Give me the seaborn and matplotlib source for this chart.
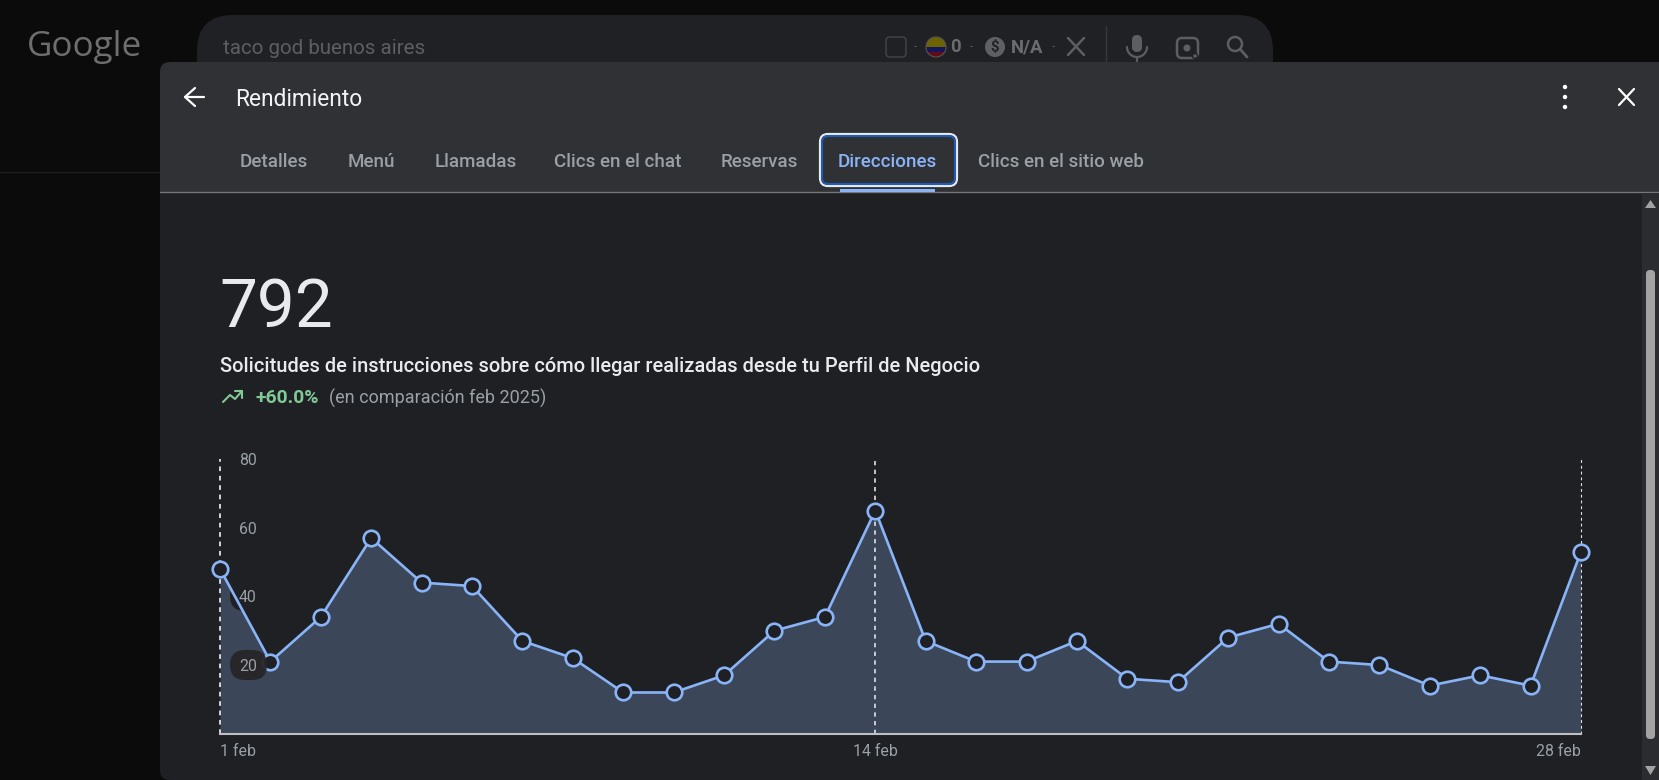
import matplotlib
matplotlib.use('Agg')
import matplotlib.pyplot as plt
from matplotlib.patches import FancyBboxPatch, Rectangle, Circle, Polygon
import numpy as np
import pandas as pd
import seaborn as sns

sns.set_theme(style='dark')
plt.rcParams['font.family'] = ['Roboto', 'DejaVu Sans']

# Data (sums to 792)
days = list(range(1, 29))
directions = [48, 21, 34, 57, 44, 43, 27, 22, 12, 12, 17, 30, 34, 65,
              27, 21, 21, 27, 16, 15, 28, 32, 21, 20, 14, 17, 14, 53]
marked_days = [1, 14, 28]
x_labels = ['1 feb', '14 feb', '28 feb']
y_ticks = [20, 40, 60, 80]
tab_names = ['Detalles', 'Menú', 'Llamadas', 'Clics en el chat', 'Reservas', 'Direcciones', 'Clics en el sitio web']
tab_lefts = [240, 348, 435, 554, 721, 838, 978]

PAGE = '#0b0b0c'
BAR = '#202124'
HEADER = '#303134'
BODY = '#1f2024'
BLUE = '#8ab4f8'
GREY = '#9aa0a6'
DIM = '#5c5e61'

W, H = 1659, 780
fig = plt.figure(figsize=(W / 100, H / 100), dpi=100, facecolor=PAGE)

# pixel coordinates canvas for the page around the chart
bg = fig.add_axes([0, 0, 1, 1], zorder=0)
bg.set_xlim(0, W)
bg.set_ylim(H, 0)
bg.axis('off')


def px(size):
    return size * 0.72


def label(x, y, s, size, color, ha='left', va='center', **kw):
    bg.text(x, y, s, fontsize=px(size), color=color, ha=ha, va=va, zorder=8, **kw)


def rounded(x0, y0, x1, y1, r, z=1, **kw):
    p = FancyBboxPatch((x0 + r, y0 + r), x1 - x0 - 2 * r, y1 - y0 - 2 * r,
                       boxstyle='round,pad=%s,rounding_size=%s' % (r, r), zorder=z, **kw)
    bg.add_patch(p)


# google search page behind the panel
bg.plot([0, 160], [172, 172], color='#1d1e20', lw=1, zorder=1)
label(27, 47, 'Google', 35, '#6e6e6e', family='Open Sans')
rounded(197, 15, 1273, 110, 36, z=1, fc=BAR, ec='none')
label(223, 48, 'taco god buenos aires', 20.5, DIM)

rounded(886, 37, 906, 57, 4, z=2, fc='none', ec='#454649', lw=1)
label(915, 47, '-', 12, '#505154', ha='center')
flag = Circle((936, 47), 10, fc='none', ec='#555', lw=0.8, zorder=4)
bg.add_patch(flag)
for y0, h, col in [(37, 10, '#6d6400'), (47, 5, '#15155e'), (52, 5, '#640c16')]:
    band = Rectangle((926, y0), 20, h, fc=col, ec='none', zorder=3)
    bg.add_patch(band)
    band.set_clip_path(flag)
label(950, 47, '0', 18.5, '#6b6c6f', weight='bold')
label(971, 47, '-', 12, '#505154', ha='center')
bg.add_patch(Circle((995, 47), 10, fc='#5f6063', ec='none', zorder=3))
label(995, 47, '$', 15, '#202124', ha='center', weight='bold')
label(1011, 47, 'N/A', 18.5, '#6b6c6f', weight='bold')
label(1053, 47, '-', 12, '#505154', ha='center')
bg.plot([1068, 1084], [38, 55], color=DIM, lw=1.8, zorder=3)
bg.plot([1068, 1084], [55, 38], color=DIM, lw=1.8, zorder=3)
bg.plot([1106, 1106], [26, 62], color='#37383b', lw=1, zorder=3)
# mic
rounded(1132, 35, 1142, 52, 5, z=3, fc=DIM, ec='none')
t = np.linspace(0, np.pi, 30)
bg.plot(1137 + 10 * np.cos(t), 47 + 10 * np.sin(t), color=DIM, lw=1.6, zorder=3)
bg.plot([1137, 1137], [57, 61], color=DIM, lw=1.6, zorder=3)
# lens
rounded(1177, 38, 1198, 58, 5, z=3, fc='none', ec=DIM, lw=1.8)
bg.add_patch(Circle((1187, 48), 3.5, fc=DIM, ec='none', zorder=3))
bg.add_patch(Circle((1195, 56), 2.5, fc=DIM, ec=BAR, lw=1, zorder=4))
# magnifier
bg.add_patch(Circle((1235, 44), 7, fc='none', ec=DIM, lw=1.8, zorder=3))
bg.plot([1240, 1247], [49, 57], color=DIM, lw=2, zorder=3)

# panel
rounded(160, 62, 1675, 300, 10, z=3, fc=HEADER, ec='none')
bg.add_patch(Rectangle((160, 192), W - 160, H - 192 - 12, fc=BODY, ec='none', zorder=4))
rounded(160, 740, 1675, 780, 10, z=4, fc=BODY, ec='none')
bg.plot([160, W], [192, 192], color='#75767a', lw=1, zorder=5)

bg.plot([185, 204], [97, 97], color='white', lw=1.6, zorder=6)
bg.plot([195, 185, 195], [88, 97, 106], color='white', lw=1.6, zorder=6)
label(235, 99, 'Rendimiento', 22.7, '#f1f3f4')
for cy in [87, 97, 107]:
    bg.add_patch(Circle((1565, cy), 2.2, fc='white', ec='none', zorder=6))
bg.plot([1619, 1634], [89, 105], color='white', lw=1.6, zorder=6)
bg.plot([1619, 1634], [105, 89], color='white', lw=1.6, zorder=6)

# tabs
for name, left in zip(tab_names, tab_lefts):
    active = name == 'Direcciones'
    label(left, 162, name, 18.8, BLUE if active else GREY, weight='medium')
rounded(820, 134, 957, 186, 8, z=6, fc='none', ec='#e8eaed', lw=1.6)
rounded(822, 136, 955, 184, 6, z=6, fc='none', ec='#1f5cb8', lw=1.5)
bg.add_patch(Rectangle((840, 189), 95, 3, fc=BLUE, ec='none', zorder=6))

# headline
label(219, 327, '792', 67.5, '#e8eaed', va='baseline')
label(220, 366, 'Solicitudes de instrucciones sobre cómo llegar realizadas desde tu Perfil de Negocio',
      20.05, '#e8eaed', weight='medium')
bg.plot([223, 230, 235, 242], [402, 395, 399, 391], color='#81c995', lw=1.5, zorder=6)
bg.plot([235, 242, 242], [391, 391, 398], color='#81c995', lw=1.5, zorder=6)
label(255, 398, '+60.0%', 19.3, '#81c995', weight='bold')
label(329, 398, '(en comparación feb 2025)', 18, GREY)

# scrollbar
bg.add_patch(Rectangle((1642, 193), 17, H - 193, fc='#2b2c2f', ec='none', zorder=5))
rounded(1646, 270, 1655, 739, 4, z=6, fc='#a3a3a3', ec='none')
bg.add_patch(Polygon([[1645, 208], [1656, 208], [1650.5, 200]], fc='#a3a3a3', ec='none', zorder=6))
bg.add_patch(Polygon([[1645, 766], [1656, 766], [1650.5, 775]], fc='#a3a3a3', ec='none', zorder=6))

# the chart itself
x0, x1, y_base, y_top = 220, 1581, 733.7, 459
ax = fig.add_axes([x0 / W, 1 - y_base / H, (x1 - x0) / W, (y_base - y_top) / H], zorder=2)
ax.patch.set_alpha(0)
df = pd.DataFrame({'day': days, 'directions': directions})

ax.fill_between(df['day'], df['directions'], color='#3b4659', lw=0, zorder=1)
for d, lw in zip(marked_days, [1.3, 1.2, 0.8]):
    ax.axvline(d, color='#dfe1e5', lw=lw, dashes=(2.6, 2.6), zorder=1.2, clip_on=False)

sns.lineplot(data=df, x='day', y='directions', ax=ax, color=BLUE, lw=1.9, zorder=2, clip_on=False)
sns.scatterplot(data=df, x='day', y='directions', ax=ax, s=125, color=BODY, edgecolor=BLUE,
                linewidth=1.9, zorder=3, clip_on=False)

ax.set_xlim(1, 28)
ax.set_ylim(0, 80)
ax.set_xlabel('')
ax.set_ylabel('')

ax.set_yticks(y_ticks)
ax.set_yticklabels([str(v) for v in y_ticks])
ax.tick_params(axis='y', length=0, pad=-26.5, labelsize=11.4, labelcolor=GREY)
ax.yaxis.set_zorder(5)

ax.set_xticks(marked_days)
ax.set_xticklabels(x_labels)
ax.tick_params(axis='x', length=0, pad=7.5, labelsize=11.4, labelcolor=GREY)
for tick, ha in zip(ax.get_xticklabels(), ['left', 'center', 'right']):
    tick.set_ha(ha)

# dark pills behind the two lower tick labels
pill_40 = FancyBboxPatch((245, 581 + 15), 7, 0, boxstyle='round,pad=15,rounding_size=15',
                         fc=BODY, ec='none', zorder=1.5)
pill_20 = FancyBboxPatch((245, 650 + 15), 7, 0, boxstyle='round,pad=15,rounding_size=15',
                         fc='#262628', ec='none', alpha=0.95, zorder=3.5)
for p in [pill_40, pill_20]:
    p.set_transform(bg.transData)
    p.set_clip_on(False)
    ax.add_artist(p)

for side in ['top', 'left', 'right']:
    ax.spines[side].set_visible(False)
ax.spines['bottom'].set_color('#bdc1c6')
ax.spines['bottom'].set_linewidth(1.5)

fig.savefig('out.png', dpi=100, facecolor=PAGE)
